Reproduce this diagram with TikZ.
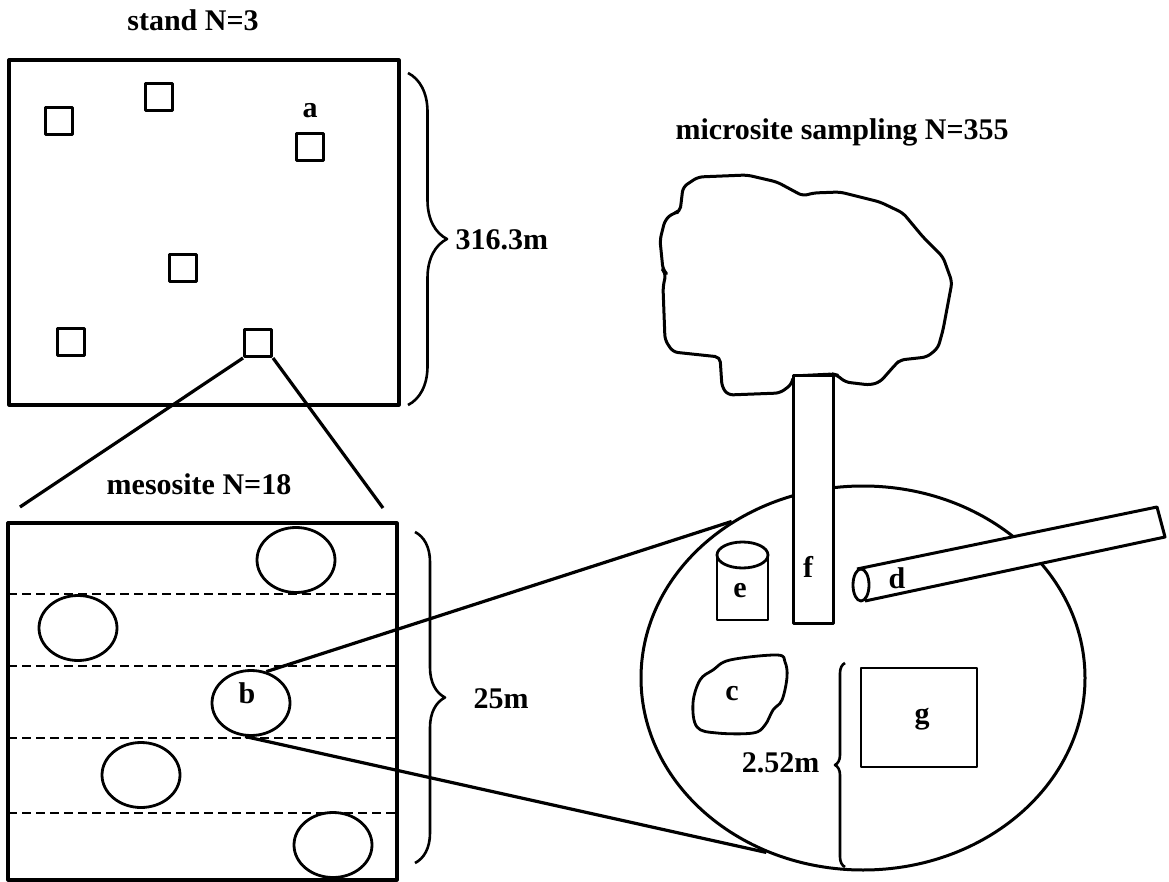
\documentclass[tikz,border=0pt]{standalone}
\usepackage{fontspec}
\setmainfont{Liberation Serif}
\usetikzlibrary{shapes.geometric}
\usetikzlibrary{decorations.pathreplacing}
\usetikzlibrary{positioning}

\begin{document}
\begin{tikzpicture}[x=1pt,y=-1pt, line join=round,
  every node/.style={font=\fontsize{30}{34}\selectfont\bfseries},
  area/.style={draw, line width=3.2pt, inner sep=0pt},
  quadrat/.style={draw, line width=3pt, minimum size=27pt, inner sep=0pt},
  subplot/.style={draw, ellipse, line width=2.8pt, minimum width=78pt, minimum height=65pt, inner sep=0pt},
  strip/.style={dash pattern=on 9pt off 5pt, line width=2.8pt},
  bracket/.style={decorate, decoration={brace, amplitude=#1}, line width=2.6pt},
  zoomline/.style={line width=3.2pt},
  letter/.style={anchor=base, inner sep=0pt}]
  \useasboundingbox (0,0) rectangle (1169,882);
  % stand with its plots
  \node[anchor=base] (standtitle) at (193,31) {stand N=3};
  \node[area, minimum width=390pt, minimum height=345pt] (stand) at (204,232.5) {};
  \node[quadrat] (q1) at (59,121) {};
  \node[quadrat] (q2) at (159,97) {};
  \node[quadrat] (qa) at (310,147) {};
  \node[quadrat] (q4) at (183,268) {};
  \node[quadrat] (q5) at (71,342) {};
  \node[quadrat] (q6) at (258,343) {};
  \node[letter] (la) at (310,118) {a};
  \draw[bracket=39pt] (408,73) -- (408,405);
  \node[anchor=base west] (standsize) at (452,250) {316.3m};
  % zoom into the mesosite
  \coordinate (zl) at (20,507);
  \coordinate (zr) at (383,508);
  \draw[zoomline] (q6.south west) -- (zl);
  \draw[zoomline] (q6.south east) -- (zr);
  \node[anchor=base] (mesotitle) at (199,494) {mesosite N=18};
  \node[area, minimum width=389pt, minimum height=357pt] (meso) at (202.5,701.5) {};
  \draw[strip] (8,594) -- (397,594);
  \draw[strip] (8,666) -- (397,666);
  \draw[strip] (8,738) -- (397,738);
  \draw[strip] (8,813) -- (397,813);
  \node[subplot] (s1) at (296,560) {};
  \node[subplot] (s2) at (78,628) {};
  \node[subplot] (b) at (251,703) {};
  \node[subplot] (s4) at (141,775) {};
  \node[subplot] (s5) at (333,845) {};
  \node[letter] (lb) at (247,703) {b};
  \draw[bracket=30pt] (415,532) -- (415,863);
  \node[anchor=base west] (mesosize) at (470,708) {25m};
  % microsite
  \node[anchor=base west] (microtitle) at (672,140) {microsite sampling N=355};
  \node[subplot, line width=3pt, minimum width=444pt, minimum height=384pt] (micro) at (863,678) {};
  \draw[zoomline] (b.64) -- (micro.130);
  \draw[zoomline] (b.-100) -- (micro.-119);
  % tree crown and stem
  \draw[line width=3pt, rounded corners=5pt] (793,376) -- (792,384) -- (780,393) -- (728,395) -- (722,387)
    -- (720,357) -- (673,352) -- (665,340) -- (663,287) -- (666,273) -- (663,270) -- (660,240) -- (665,220)
    -- (673,213) -- (680,212) -- (683,187) -- (698,177) -- (747,175) -- (777,182) -- (803,196) -- (813,193)
    -- (840,192) -- (880,202) -- (903,213) -- (923,237) -- (943,257) -- (952,282) -- (943,330) -- (938,348)
    -- (927,357) -- (900,360) -- (895,365) -- (880,382) -- (870,385) -- (845,382) -- (837,375) -- (833,374) -- cycle;
  \node[area, line width=3pt, fill=white, minimum width=40pt, minimum height=248pt] (trunk) at (813,499) {};
  \node[letter] (lf) at (808,577) {f};
  % stump
  \draw[line width=2.8pt] (717,555) -- (717,620) -- (768,620) -- (768,555);
  \node[draw, ellipse, line width=2.8pt, minimum width=51pt, minimum height=26pt, inner sep=0pt] (lid) at (742.5,555) {};
  \node[letter] (le) at (740,597) {e};
  % log
  \fill[white] (857,569) -- (1157,507) -- (1165,537) -- (865,601) -- cycle;
  \draw[line width=3pt] (857,569) -- (1157,507) -- (1165,537) -- (865,601);
  \node[draw, ellipse, fill=white, line width=2.8pt, minimum width=16pt, minimum height=32pt, inner sep=0pt] (mouth) at (861,585) {};
  \node[letter] (ld) at (897,588) {d};
  % rock
  \draw[line width=2.8pt] plot[smooth cycle, tension=0.6] coordinates {(713,670) (730,660) (777,655) (785,662)
    (787,677) (782,700) (773,710) (765,725) (753,733) (717,733) (697,727) (693,703) (700,680)};
  \node[letter] (lc) at (732,700) {c};
  % quadrat
  \node[area, line width=2.8pt, minimum width=116pt, minimum height=99pt] (gq) at (919,717.5) {};
  \node[letter] (lg) at (922,723) {g};
  \draw[bracket=10pt] (845,867) -- (845,663);
  \node[anchor=base east] (microsize) at (823,772) {2.52m};
\end{tikzpicture}
\end{document}
